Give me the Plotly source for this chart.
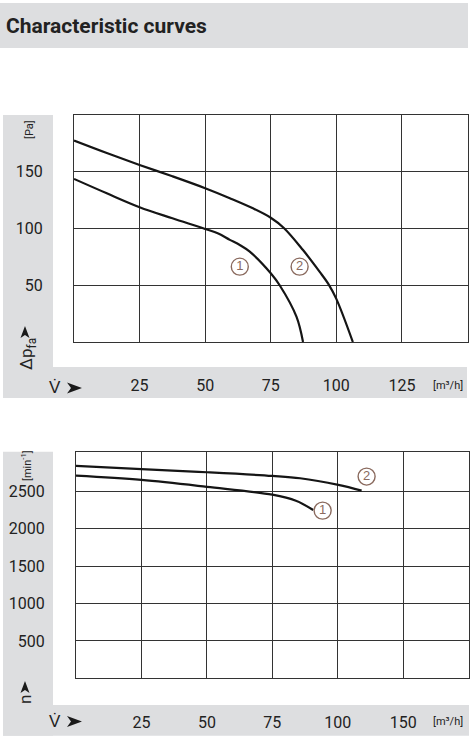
import plotly.graph_objects as go

W, H = 475, 745

# ---------------- data ----------------
# Upper chart: static pressure vs. air flow
p_x1 = [0, 12.5, 25, 37.5, 50, 55, 59.4, 63.2, 67, 75, 78.4, 84.8, 87.3]
p_y1 = [143.7, 131, 118.8, 109, 99.6, 95.5, 90, 85.5, 79.6, 60.6, 50, 22.3, 0]
p_x2 = [0, 12.5, 25, 37.5, 50, 59.4, 68, 75, 80, 87.3, 93.6, 97, 100, 106.3]
p_y2 = [177.5, 166.5, 156, 146, 135.5, 126.7, 118, 109.5, 100.5, 81, 62, 51, 38, 0]

# Lower chart: speed vs. air flow
n_x1 = [0, 25, 50, 75, 84, 90.6]
n_y1 = [2710, 2652, 2560, 2455, 2375, 2251]
n_x2 = [0, 25, 50, 75, 85.6, 100.2, 109.1]
n_y2 = [2840, 2796, 2755, 2706, 2675, 2586, 2510]

# curve label positions
p_lab_x = [63.2, 86.0]
p_lab_y = [66.4, 66.4]
p_lab_t = ["1", "2"]
n_lab_x = [94.2, 111.0]
n_lab_y = [2242, 2697]
n_lab_t = ["1", "2"]

top_xticks = [25, 50, 75, 100, 125]
top_xtext = ["25", "50", "75", "100", "125"]
top_yticks = [50, 100, 150]
bot_xticks = [25, 50, 75, 100, 125]
bot_xtext = ["25", "50", "75", "100", "150"]
bot_yticks = [500, 1000, 1500, 2000, 2500]

# ---------------- style ----------------
FONT = "Roboto, Liberation Sans, sans-serif"
TXT = "#222222"
GRID = "#333333"
GREY = "#dddee0"
LAB = "#8a6a5e"


def X(px):
    return px / W


def Y(py):
    return 1 - py / H


fig = go.Figure()

curve = dict(mode="lines", line=dict(color="#151515", width=2.2, shape="spline", smoothing=1.0),
             hoverinfo="skip", showlegend=False)
fig.add_trace(go.Scatter(x=p_x1, y=p_y1, xaxis="x", yaxis="y", **curve))
fig.add_trace(go.Scatter(x=p_x2, y=p_y2, xaxis="x", yaxis="y", **curve))
fig.add_trace(go.Scatter(x=n_x1, y=n_y1, xaxis="x2", yaxis="y2", **curve))
fig.add_trace(go.Scatter(x=n_x2, y=n_y2, xaxis="x2", yaxis="y2", **curve))

lab = dict(mode="markers+text", marker=dict(symbol="circle", size=17, color="white",
                                              line=dict(color=LAB, width=1.4)),
           textfont=dict(family="Liberation Sans, Arial, sans-serif", size=13, color=LAB),
           textposition="middle center", hoverinfo="skip", showlegend=False)
fig.add_trace(go.Scatter(x=p_lab_x, y=p_lab_y, text=p_lab_t, xaxis="x", yaxis="y", **lab))
fig.add_trace(go.Scatter(x=n_lab_x, y=n_lab_y, text=n_lab_t, xaxis="x2", yaxis="y2", **lab))

common_ax = dict(showgrid=True, gridcolor=GRID, gridwidth=1, showline=True, linecolor=GRID,
                 linewidth=1, mirror=True, zeroline=False, ticks="",
                 tickfont=dict(family=FONT, size=16, color=TXT), fixedrange=True)

fig.update_layout(
    width=W, height=H, margin=dict(l=0, r=0, t=0, b=0),
    paper_bgcolor="white", plot_bgcolor="white",
    xaxis=dict(domain=[X(74), X(467.5)], range=[0, 150], anchor="y",
               tickvals=top_xticks, ticktext=top_xtext, ticklabelstandoff=29, **common_ax),
    yaxis=dict(domain=[Y(342), Y(115)], range=[0, 200], anchor="x",
               tickvals=top_yticks, ticklabelstandoff=27, **common_ax),
    xaxis2=dict(domain=[X(76), X(468.7)], range=[0, 150], anchor="y2",
                tickvals=bot_xticks, ticktext=bot_xtext, ticklabelstandoff=29, **common_ax),
    yaxis2=dict(domain=[Y(678.3), Y(451.7)], range=[0, 3030], anchor="x2",
                tickvals=bot_yticks, ticklabelstandoff=27, **common_ax),
)

shapes = []


def rect(x0, y0, x1, y1):
    shapes.append(dict(type="rect", xref="paper", yref="paper", x0=X(x0), x1=X(x1),
                       y0=Y(y1), y1=Y(y0), fillcolor=GREY, line=dict(width=0), layer="below"))


rect(0, 3, 468, 48)
rect(3, 115, 53, 398)
rect(3, 367, 467, 398)
rect(3, 451.7, 53, 735.7)
rect(3, 705, 469, 735.7)


def path(pts):
    d = "M " + " L ".join(f"{X(a):.5f},{Y(b):.5f}" for a, b in pts) + " Z"
    shapes.append(dict(type="path", xref="paper", yref="paper", path=d,
                       fillcolor="#1a1a1a", line=dict(width=0)))


def arrow_right(cx, cy):
    path([(cx + 8, cy), (cx - 7, cy - 5.5), (cx - 3, cy), (cx - 7, cy + 5.5)])


def arrow_up(cx, cy):
    path([(cx, cy - 6), (cx + 4.5, cy + 6), (cx, cy + 3), (cx - 4.5, cy + 6)])


arrow_right(74, 388)
arrow_up(25, 332)
arrow_right(74, 721.5)
arrow_up(25, 687)

fig.update_layout(shapes=shapes)

ann = []


def text(px, py, t, size=17, angle=0, xanchor="center", bold=False, family=FONT):
    ann.append(dict(xref="paper", yref="paper", x=X(px), y=Y(py), text=f"<b>{t}</b>" if bold else t,
                    showarrow=False, textangle=angle, xanchor=xanchor, yanchor="middle",
                    font=dict(family=family, size=size, color=TXT)))


text(4, 26, "Characteristic curves", size=21, xanchor="left", bold=True)
# upper chart labels
text(30, 130, "[Pa]", size=11, angle=-90)
text(27, 354, "Δp<sub>fa</sub>", size=17, angle=-90)
text(55, 387, "V\u0307", size=17)
text(448, 385, "[m³/h]", size=11)
# lower chart labels
text(26, 466, "[min<sup>-1</sup>]", size=11, angle=-90)
text(25, 700, "n", size=17, angle=-90)
text(55, 721, "V\u0307", size=17)
text(448, 721, "[m³/h]", size=11)

fig.update_layout(annotations=ann)

fig.write_html("out.html", config={"displayModeBar": False},
               post_script="document.body.style.margin='0';")
